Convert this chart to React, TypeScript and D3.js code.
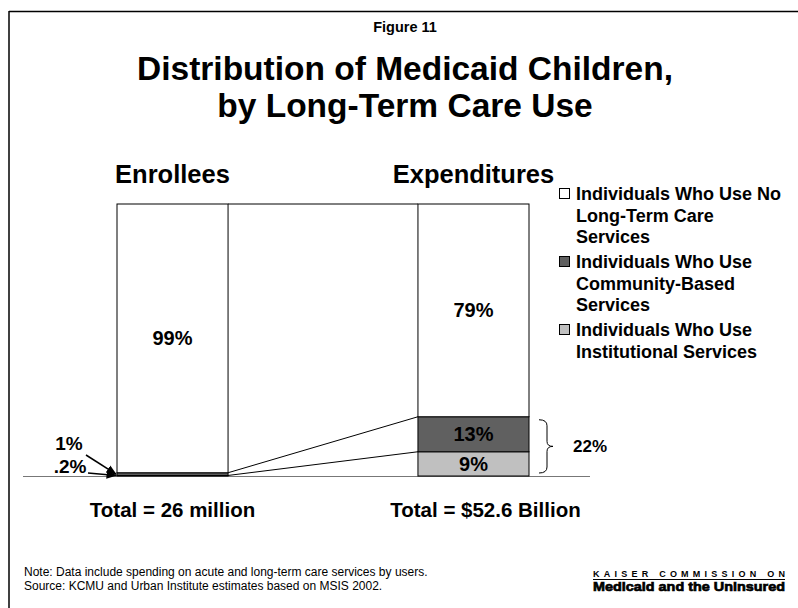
import React from "react";
import * as d3 from "d3";

const categories = ["Enrollees", "Expenditures"];
const seriesKeys = ["institutional", "community", "none"];
const institutional = [0.2, 9];
const community = [1, 13];
const noLtc = [99, 79];
const enrolleeLabels = [".2%", "1%", "99%"];
const expenditureLabels = ["9%", "13%", "79%"];
const totals = ["Total = 26 million", "Total = $52.6 Billion"];
const legendItems = [
  { key: "none", lines: ["Individuals Who Use No", "Long-Term Care", "Services"] },
  { key: "community", lines: ["Individuals Who Use", "Community-Based", "Services"] },
  { key: "institutional", lines: ["Individuals Who Use", "Institutional Services"] },
];
const groupLabel = "22%";

const colors: Record<string, string> = {
  none: "#ffffff",
  community: "#606060",
  institutional: "#c0c0c0",
};

const FONT = "'Liberation Sans', Arial, Helvetica, sans-serif";

export default function App() {
  const rows = categories.map((c, i) => ({
    cat: c,
    institutional: institutional[i],
    community: community[i],
    none: noLtc[i],
  }));
  const stacked = d3.stack<any>().keys(seriesKeys).offset(d3.stackOffsetExpand)(rows);

  const x = d3.scaleBand().domain(categories).range([117, 529]).paddingInner(0.631).paddingOuter(0);
  const y = d3.scaleLinear().domain([0, 1]).range([476, 204]);
  const bw = x.bandwidth();
  const x0 = x(categories[0])!;
  const x1 = x(categories[1])!;

  const segLabel = (key: string, i: number) => {
    const idx = seriesKeys.indexOf(key);
    return i === 0 ? enrolleeLabels[idx] : expenditureLabels[idx];
  };

  const tops = stacked.map((s) => [s[0][1], s[1][1]]);

  const comm = stacked[1][1];
  const inst = stacked[0][1];
  const braceTop = y(comm[1]) + 3;
  const braceBot = y(inst[0]) - 3;
  const braceMid = (braceTop + braceBot) / 2;
  const bx = x1 + bw + 10;

  const enrComm = stacked[1][0];
  const enrInst = stacked[0][0];

  return (
    <svg
      width={798}
      height={608}
      style={{ position: "absolute", left: 0, top: 0, background: "#fff" }}
      fontFamily={FONT}
    >
      <defs>
        <marker id="arr" viewBox="0 0 10 10" refX="9" refY="5" markerWidth="7" markerHeight="7" orient="auto">
          <path d="M0,1 L10,5 L0,9 z" fill="#000" />
        </marker>
      </defs>
      <rect x={0} y={0} width={798} height={608} fill="#fff" />
      <line x1={9} y1={11.5} x2={798} y2={11.5} stroke="#000" strokeWidth={1.5} />
      <line x1={9} y1={11} x2={9} y2={608} stroke="#000" strokeWidth={1.5} />

      <text x={405} y={32} textAnchor="middle" fontSize={14.5} fontWeight="bold">Figure 11</text>
      <text x={405} y={80} textAnchor="middle" fontSize={33.5} fontWeight="bold">Distribution of Medicaid Children,</text>
      <text x={405} y={117} textAnchor="middle" fontSize={33.5} fontWeight="bold">by Long-Term Care Use</text>

      {categories.map((c) => (
        <text key={c} x={x(c)! + bw / 2} y={183} textAnchor="middle" fontSize={25.5} fontWeight="bold">{c}</text>
      ))}

      <line x1={23} y1={y(0) + 0.5} x2={590} y2={y(0) + 0.5} stroke="#777" strokeWidth={1} />

      {tops.map((t, k) => (
        <line key={k} x1={x0 + bw} y1={y(t[0])} x2={x1} y2={y(t[1])} stroke="#000" strokeWidth={1} />
      ))}

      {stacked.map((s) =>
        s.map((d, i) => (
          <rect
            key={s.key + i}
            x={x(categories[i])!}
            y={y(d[1])}
            width={bw}
            height={Math.max(0, y(d[0]) - y(d[1]))}
            fill={colors[s.key]}
            stroke="#000"
            strokeWidth={1}
          />
        ))
      )}

      {stacked.map((s) =>
        s.map((d, i) => {
          if (i === 0 && s.key !== "none") return null;
          const cy = (y(d[0]) + y(d[1])) / 2;
          return (
            <text key={"l" + s.key + i} x={x(categories[i])! + bw / 2} y={cy + 7} textAnchor="middle" fontSize={20} fontWeight="bold">
              {segLabel(s.key, i)}
            </text>
          );
        })
      )}

      <text x={69} y={450} textAnchor="middle" fontSize={19} fontWeight="bold">{segLabel("community", 0)}</text>
      <text x={70} y={473} textAnchor="middle" fontSize={19} fontWeight="bold">{segLabel("institutional", 0)}</text>
      <line x1={86} y1={455} x2={x0 - 1} y2={(y(enrComm[0]) + y(enrComm[1])) / 2} stroke="#000" strokeWidth={1.5} markerEnd="url(#arr)" />
      <line x1={88} y1={473} x2={x0 - 1} y2={y(enrInst[0]) - 0.5} stroke="#000" strokeWidth={1.5} markerEnd="url(#arr)" />

      <path
        d={`M${bx},${braceTop} Q${bx + 8},${braceTop} ${bx + 8},${braceTop + 6} L${bx + 8},${braceMid - 5} Q${bx + 8},${braceMid} ${bx + 14},${braceMid} Q${bx + 8},${braceMid} ${bx + 8},${braceMid + 5} L${bx + 8},${braceBot - 6} Q${bx + 8},${braceBot} ${bx},${braceBot}`}
        fill="none"
        stroke="#000"
        strokeWidth={1}
      />
      <text x={bx + 34} y={braceMid + 6} fontSize={17} fontWeight="bold">{groupLabel}</text>

      <text x={x0 + bw / 2} y={517} textAnchor="middle" fontSize={20.5} fontWeight="bold">{totals[0]}</text>
      <text x={x1 + bw / 2 + 12} y={517} textAnchor="middle" fontSize={20.5} fontWeight="bold">{totals[1]}</text>

      {(() => {
        let yy = 200;
        return legendItems.map((it) => {
          const g = (
            <g key={it.key}>
              <rect x={559.5} y={yy - 11.5} width={10} height={10} fill={colors[it.key]} stroke="#000" strokeWidth={1} />
              {it.lines.map((ln, j) => (
                <text key={j} x={576} y={yy + j * 21.5} fontSize={18} fontWeight="bold">{ln}</text>
              ))}
            </g>
          );
          yy += it.lines.length * 21.5 + 3.5;
          return g;
        });
      })()}

      <text x={24} y={576} fontSize={12}>Note: Data include spending on acute and long-term care services by users.</text>
      <text x={24} y={590} fontSize={12}>Source: KCMU and Urban Institute estimates based on MSIS 2002.</text>

      <text x={593} y={577} fontSize={9} fontWeight="bold" textLength={192} lengthAdjust="spacing">KAISER COMMISSION ON</text>
      <line x1={593} y1={579.5} x2={785} y2={579.5} stroke="#000" strokeWidth={1} />
      <text x={593} y={591} fontSize={13.5} fontWeight="bold" stroke="#000" strokeWidth={0.7} textLength={192} lengthAdjust="spacingAndGlyphs">Medicaid and the Uninsured</text>
    </svg>
  );
}
